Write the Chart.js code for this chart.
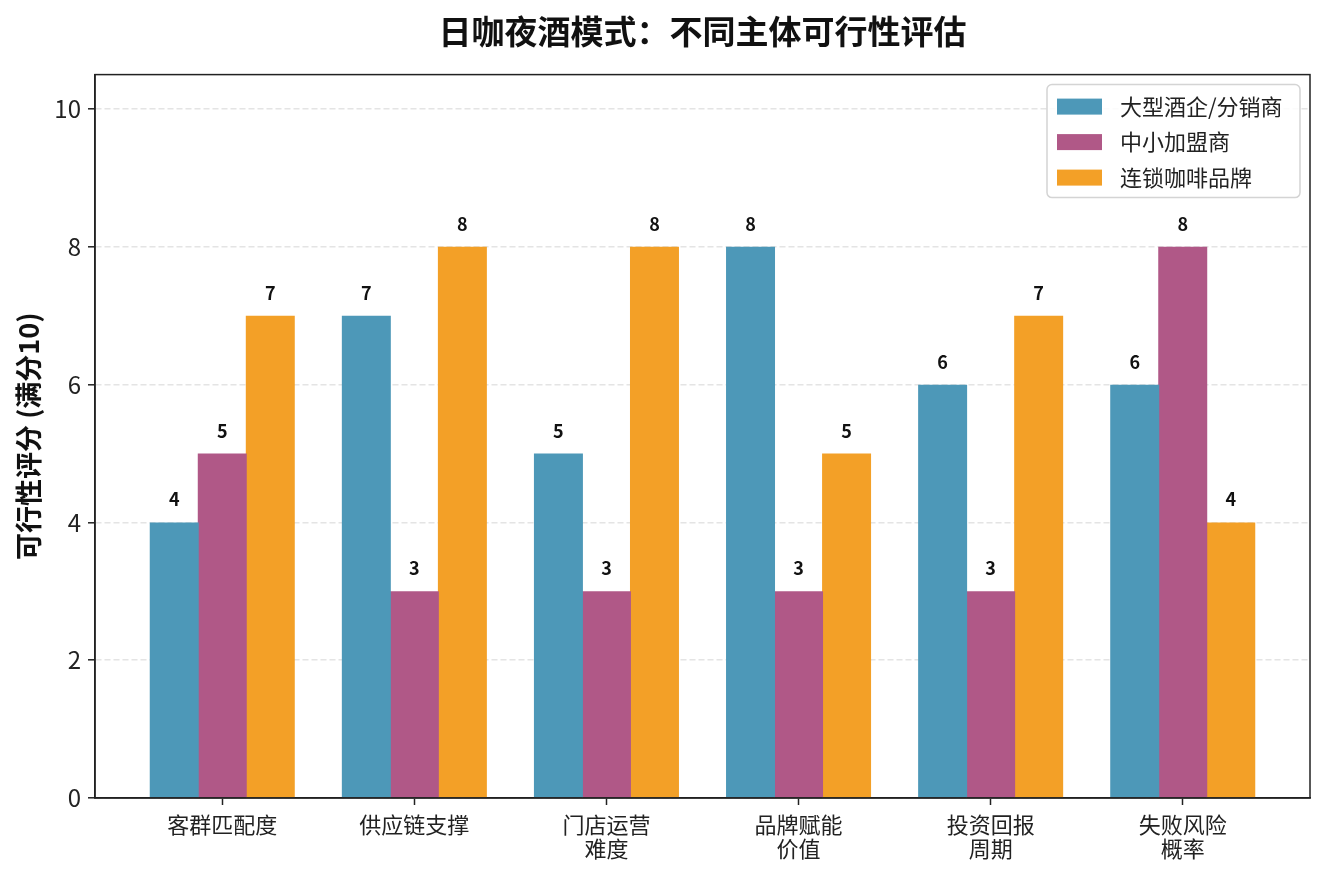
<!DOCTYPE html>
<html lang="zh-CN">
<head>
<meta charset="utf-8">
<title>日咖夜酒模式：不同主体可行性评估</title>
<script src="https://cdn.jsdelivr.net/npm/chart.js@4.4.1/dist/chart.umd.min.js"></script>
<style>
    html, body { margin: 0; padding: 0; background: #fff; }
    canvas { display: block; }
</style>
</head>
<body>
<canvas id="evalChart" width="1326" height="874"></canvas>
<script>
// dados do gráfico
const categories = ['客群匹配度', '供应链支撑', ['门店运营', '难度'], ['品牌赋能', '价值'], ['投资回报', '周期'], ['失败风险', '概率']];
const seriesNames = ['大型酒企/分销商', '中小加盟商', '连锁咖啡品牌'];
const bigDistributor = [4, 7, 5, 8, 6, 6];
const smallFranchise = [5, 3, 3, 3, 3, 8];
const coffeeChain = [7, 8, 8, 5, 7, 4];
const yTicks = [0, 2, 4, 6, 8, 10];

const colors = ['#4D98B8', '#B05887', '#F3A027'];
const FONT = '"Noto Sans CJK SC", "Noto Sans", sans-serif';
const INK = '#222';

function toPoints(values) {
    return values.map((v, i) => ({ x: i, y: v }));
}

// rótulos de valor acima das barras
const valueLabels = {
    id: 'valueLabels',
    afterDatasetsDraw(chart) {
        const ctx = chart.ctx;
        ctx.save();
        ctx.font = 'bold 18px ' + FONT;
        ctx.fillStyle = '#111';
        ctx.textAlign = 'center';
        ctx.textBaseline = 'alphabetic';
        chart.data.datasets.forEach((ds, di) => {
            const meta = chart.getDatasetMeta(di);
            meta.data.forEach((bar, i) => {
                ctx.fillText(String(ds.data[i].y), bar.x, bar.y - 16);
            });
        });
        ctx.restore();
    }
};

// moldura completa em volta da área do gráfico
const frame = {
    id: 'frame',
    afterDraw(chart) {
        const a = chart.chartArea;
        const ctx = chart.ctx;
        ctx.save();
        ctx.strokeStyle = INK;
        ctx.lineWidth = 1.5;
        ctx.strokeRect(a.left, a.top, a.right - a.left, a.bottom - a.top);
        ctx.restore();
    }
};

// legenda no canto superior direito
const boxLegend = {
    id: 'boxLegend',
    afterDraw(chart) {
        const ctx = chart.ctx;
        const a = chart.chartArea;
        const w = 253, h = 113;
        const x0 = a.right - 10 - w, y0 = a.top + 10;
        ctx.save();
        ctx.beginPath();
        ctx.roundRect(x0, y0, w, h, 5);
        ctx.fillStyle = 'rgba(255,255,255,0.85)';
        ctx.fill();
        ctx.strokeStyle = '#d4d4d4';
        ctx.lineWidth = 1.5;
        ctx.stroke();
        ctx.font = '22px ' + FONT;
        ctx.textBaseline = 'middle';
        ctx.textAlign = 'left';
        chart.data.datasets.forEach((ds, i) => {
            const cy = y0 + 22 + i * 35.5;
            ctx.fillStyle = ds.backgroundColor;
            ctx.fillRect(x0 + 10, cy - 8, 45, 16);
            ctx.fillStyle = INK;
            ctx.fillText(ds.label, x0 + 73, cy);
        });
        ctx.restore();
    }
};

const ctx = document.getElementById('evalChart').getContext('2d');
new Chart(ctx, {
    type: 'bar',
    data: {
        datasets: [
            { label: seriesNames[0], data: toPoints(bigDistributor), backgroundColor: colors[0] },
            { label: seriesNames[1], data: toPoints(smallFranchise), backgroundColor: colors[1] },
            { label: seriesNames[2], data: toPoints(coffeeChain), backgroundColor: colors[2] }
        ]
    },
    options: {
        responsive: false,
        animation: false,
        devicePixelRatio: 1,
        layout: { padding: { left: 0, right: 16, top: 0, bottom: 0 } },
        datasets: {
            bar: { categoryPercentage: 0.75, barPercentage: 1.02, borderWidth: 0 }
        },
        plugins: {
            legend: { display: false },
            tooltip: { enabled: false },
            title: {
                display: true,
                text: '日咖夜酒模式：不同主体可行性评估',
                fullSize: false,
                color: '#111',
                font: { family: FONT, size: 33, weight: 'bold', lineHeight: 1.2 },
                padding: { top: 12, bottom: 23 }
            }
        },
        scales: {
            x: {
                type: 'linear',
                min: -0.6625,
                max: 5.6625,
                offset: false,
                afterBuildTicks(scale) {
                    scale.ticks = categories.map((c, i) => ({ value: i }));
                },
                afterFit(scale) { scale.height = 76; },
                grid: {
                    offset: false,
                    drawOnChartArea: false,
                    drawTicks: true,
                    tickLength: 7,
                    tickWidth: 1.5,
                    tickColor: INK
                },
                border: { display: true, color: INK, width: 1.5 },
                ticks: {
                    autoSkip: false,
                    maxRotation: 0,
                    padding: 8,
                    color: INK,
                    font: { family: FONT, size: 22, lineHeight: 1.07 },
                    callback: (value) => categories[value]
                }
            },
            y: {
                min: 0,
                max: 10.5,
                afterBuildTicks(scale) {
                    scale.ticks = yTicks.map(v => ({ value: v }));
                },
                afterFit(scale) { scale.width = 95; },
                grid: {
                    color: '#e4e4e4',
                    lineWidth: 1.6,
                    drawTicks: true,
                    tickLength: 7,
                    tickWidth: 1.5,
                    tickColor: INK,
                    tickBorderDash: []
                },
                border: { display: true, color: INK, width: 1.5, dash: [6, 3] },
                ticks: {
                    padding: 7,
                    color: INK,
                    font: { family: FONT, size: 24 }
                },
                title: {
                    display: true,
                    text: '可行性评分 (满分10)',
                    color: '#111',
                    font: { family: FONT, size: 27, weight: 'bold', lineHeight: 1.2 },
                    padding: { top: 13, bottom: 0 }
                }
            }
        }
    },
    plugins: [valueLabels, frame, boxLegend]
});
</script>
</body>
</html>
